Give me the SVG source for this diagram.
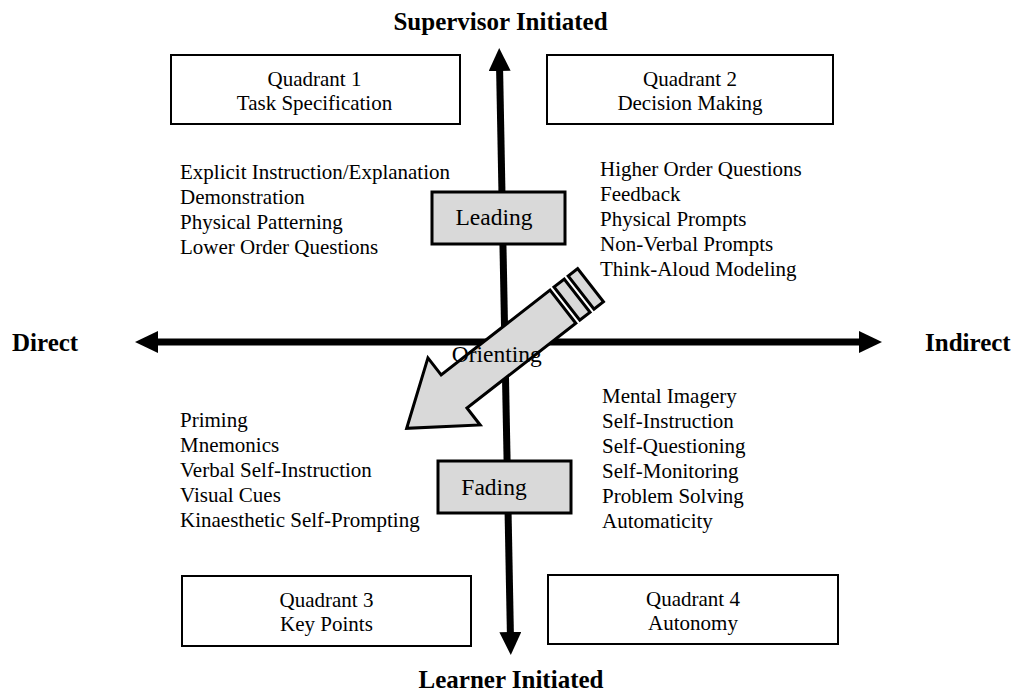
<svg xmlns="http://www.w3.org/2000/svg" width="1021" height="695" viewBox="0 0 1021 695">
<style>
.t{font-family:"Liberation Serif","Times New Roman",serif;font-size:21px;fill:#000}
.b{font-family:"Liberation Serif","Times New Roman",serif;font-size:25px;font-weight:bold;fill:#000}
.m{font-family:"Liberation Serif","Times New Roman",serif;font-size:23.5px;fill:#000}
.box{fill:#fff;stroke:#000;stroke-width:2}
.gbox{fill:#d9d9d9;stroke:#000;stroke-width:3}
.axis{stroke:#000;stroke-width:7;fill:none}
.c{text-anchor:middle}
</style>
<defs>
<marker id="ah" viewBox="0 -11 23 22" refX="2" refY="0" markerWidth="23" markerHeight="22" markerUnits="userSpaceOnUse" orient="auto-start-reverse">
<path d="M0,-11 L23,0 L0,11 Z" fill="#000"/>
</marker>
</defs>
<rect width="1021" height="695" fill="#fff"/>
<g id="connectors">
<line class="axis" x1="156" y1="342" x2="861" y2="342" marker-start="url(#ah)" marker-end="url(#ah)"/>
<line class="axis" x1="499.6" y1="69" x2="510.4" y2="634" marker-start="url(#ah)" marker-end="url(#ah)"/>
</g>
<g id="label-supervisor"><text class="b c" x="500.5" y="30">Supervisor Initiated</text></g>
<g id="label-learner"><text class="b c" x="511" y="688">Learner Initiated</text></g>
<g id="label-direct"><text class="b" x="12" y="351">Direct</text></g>
<g id="label-indirect"><text class="b" x="925" y="351">Indirect</text></g>
<g id="q1"><rect class="box" x="171" y="55" width="289" height="69"/>
<text class="t c" x="314.5" y="86">Quadrant 1</text><text class="t c" x="314.5" y="110">Task Specification</text></g>
<g id="q2"><rect class="box" x="547" y="55" width="286" height="69"/>
<text class="t c" x="690" y="86">Quadrant 2</text><text class="t c" x="690" y="110">Decision Making</text></g>
<g id="q3"><rect class="box" x="182" y="576" width="289" height="70"/>
<text class="t c" x="326.5" y="606.5">Quadrant 3</text><text class="t c" x="326.5" y="630.5">Key Points</text></g>
<g id="q4"><rect class="box" x="548" y="575" width="290" height="69"/>
<text class="t c" x="693" y="606">Quadrant 4</text><text class="t c" x="693" y="630">Autonomy</text></g>
<g id="list-q1">
<text class="t" x="180" y="179">Explicit Instruction/Explanation</text>
<text class="t" x="180" y="204">Demonstration</text>
<text class="t" x="180" y="229">Physical Patterning</text>
<text class="t" x="180" y="254">Lower Order Questions</text>
</g>
<g id="list-q2">
<text class="t" x="600" y="176">Higher Order Questions</text>
<text class="t" x="600" y="201">Feedback</text>
<text class="t" x="600" y="226">Physical Prompts</text>
<text class="t" x="600" y="251">Non-Verbal Prompts</text>
<text class="t" x="600" y="276">Think-Aloud Modeling</text>
</g>
<g id="list-q4">
<text class="t" x="602" y="403">Mental Imagery</text>
<text class="t" x="602" y="428">Self-Instruction</text>
<text class="t" x="602" y="453">Self-Questioning</text>
<text class="t" x="602" y="478">Self-Monitoring</text>
<text class="t" x="602" y="503">Problem Solving</text>
<text class="t" x="602" y="528">Automaticity</text>
</g>
<g id="list-q3">
<text class="t" x="180" y="427">Priming</text>
<text class="t" x="180" y="452">Mnemonics</text>
<text class="t" x="180" y="477">Verbal Self-Instruction</text>
<text class="t" x="180" y="502">Visual Cues</text>
<text class="t" x="180" y="527">Kinaesthetic Self-Prompting</text>
</g>
<g id="leading"><rect class="gbox" x="432" y="192" width="133" height="52"/>
<text class="m c" x="494" y="225">Leading</text></g>
<g id="fading"><rect class="gbox" x="438" y="461" width="133" height="52"/>
<text class="m c" x="494" y="495">Fading</text></g>
<g id="orienting">
<g transform="translate(406.7,428.3) rotate(-37.9)">
<path class="gbox" d="M0,0 L60,-42.5 L60,-21 L198,-21 L198,21 L60,21 L60,42.5 Z"/>
<rect class="gbox" x="203" y="-21" width="13" height="42"/>
<rect class="gbox" x="221" y="-21" width="12" height="42"/>
</g>
<text class="m" x="451.7" y="361.5">Orienting</text>
</g>
</svg>
